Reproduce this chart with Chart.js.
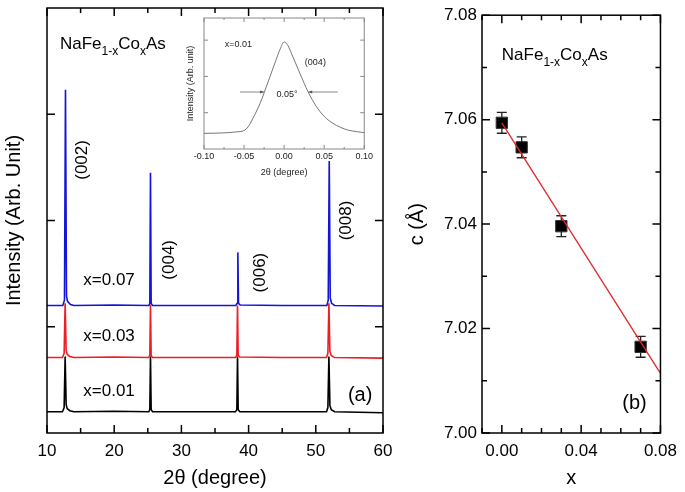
<!DOCTYPE html>
<html>
<head>
<meta charset="utf-8">
<script src="https://cdn.jsdelivr.net/npm/chart.js@4.4.1/dist/chart.umd.min.js"></script>
<style>
  body { margin: 0; background: #fff; }
  #wrap { position: relative; width: 685px; height: 492px; }
  canvas { position: absolute; }
</style>
</head>
<body>
<div id="wrap">
  <canvas id="xrd" width="440" height="492" style="left:0;top:0"></canvas>
  <canvas id="lattice" width="285" height="492" style="left:400px;top:0"></canvas>
  <canvas id="inset" width="195" height="165" style="left:180px;top:15px"></canvas>
</div>
<script>
"use strict";

/* --- DATA (a): XRD patterns, offset in arbitrary units --- */

const x001 = [10, 12.3, 12.55, 12.7, 12.85, 13.0, 13.4, 14, 20, 25.15, 25.3, 25.4, 25.5, 25.7, 30, 38.05, 38.25, 38.35, 38.45, 38.7, 45, 51.6, 51.8, 51.95, 52.1, 52.3, 52.8, 60];
const y001 = [0.2, 0.2, 0.24, 0.72, 0.27, 0.23, 0.21, 0.2, 0.205, 0.2, 0.22, 0.72, 0.22, 0.2, 0.2, 0.2, 0.22, 0.72, 0.22, 0.2, 0.2, 0.2, 0.24, 0.72, 0.26, 0.22, 0.2, 0.19];

const x003 = [10, 12.3, 12.55, 12.7, 12.85, 13.0, 13.4, 14, 20, 25.15, 25.3, 25.4, 25.5, 25.7, 30, 38.05, 38.25, 38.35, 38.45, 38.7, 45, 51.6, 51.8, 51.95, 52.1, 52.3, 52.8, 60];
const y003 = [0.71, 0.71, 0.75, 1.22, 0.78, 0.74, 0.72, 0.71, 0.715, 0.71, 0.73, 1.21, 0.73, 0.71, 0.71, 0.71, 0.73, 1.2, 0.73, 0.715, 0.71, 0.71, 0.75, 1.22, 0.77, 0.73, 0.71, 0.705];

const x007 = [10, 12.35, 12.6, 12.75, 12.9, 13.05, 13.5, 14, 20, 25.15, 25.3, 25.4, 25.5, 25.7, 30, 38.1, 38.3, 38.4, 38.5, 38.75, 45, 51.65, 51.85, 52.0, 52.15, 52.35, 52.8, 60];
const y007 = [1.2, 1.2, 1.25, 3.23, 1.29, 1.24, 1.21, 1.2, 1.205, 1.2, 1.22, 2.45, 1.22, 1.2, 1.2, 1.2, 1.22, 1.7, 1.22, 1.205, 1.2, 1.2, 1.25, 2.56, 1.27, 1.22, 1.2, 1.195];

const xrdXTicks = [10, 20, 30, 40, 50, 60];
const xrdXMinor = [15, 25, 35, 45, 55];
const xrdYTicks = [1, 2, 3];

/* --- DATA (inset): (004) peak of x=0.01 --- */

const insetX = [-0.10, -0.08, -0.06, -0.05, -0.045, -0.04, -0.03, -0.02, -0.01, -0.005, 0, 0.005, 0.01, 0.02, 0.03, 0.04, 0.05, 0.06, 0.07, 0.08, 0.09, 0.10];
const insetY = [0.43, 0.44, 0.47, 0.51, 0.61, 0.8, 1.26, 1.85, 2.46, 2.75, 2.95, 2.84, 2.59, 2.07, 1.57, 1.18, 0.9, 0.72, 0.6, 0.52, 0.48, 0.45];
const insetXTicks = [-0.10, -0.05, 0.00, 0.05, 0.10];
const insetXMinor = [-0.075, -0.025, 0.025, 0.075];
const insetYTicks = [1, 2, 3];

/* --- DATA (b): c axis vs x --- */

const cDoping = [0.00, 0.01, 0.03, 0.07];
const cValue = [7.0594, 7.0547, 7.0396, 7.0165];
const cError = [0.002, 0.002, 0.002, 0.002];
const fitX = [0.00, 0.08];
const fitY = [7.0594, 7.0114];
const cXTicks = [0.00, 0.04, 0.08];
const cXMinor = [-0.01, 0.01, 0.02, 0.03, 0.05, 0.06, 0.07];
const cYTicks = [7.00, 7.02, 7.04, 7.06, 7.08];
const cYMinor = [7.01, 7.03, 7.05, 7.07];

const FONT = "'Liberation Sans', Arial, sans-serif";

function pts(xs, ys) {
  return xs.map((v, i) => ({x: v, y: ys[i]}));
}

/* frame + inward ticks on all four sides */
const frameTicks = {
  id: 'frameTicks',
  afterDraw(chart, args, o) {
    const ctx = chart.ctx;
    const a = chart.chartArea;
    const sx = chart.scales.x, sy = chart.scales.y;
    ctx.save();
    ctx.strokeStyle = o.color;
    ctx.lineWidth = o.width;
    ctx.beginPath();
    const mark = (vals, len) => {
      vals.forEach(v => {
        const px = sx.getPixelForValue(v);
        ctx.moveTo(px, a.bottom); ctx.lineTo(px, a.bottom - len);
        ctx.moveTo(px, a.top); ctx.lineTo(px, a.top + len);
      });
    };
    const markY = (vals, len) => {
      vals.forEach(v => {
        const py = sy.getPixelForValue(v);
        ctx.moveTo(a.left, py); ctx.lineTo(a.left + len, py);
        ctx.moveTo(a.right, py); ctx.lineTo(a.right - len, py);
      });
    };
    mark(o.xMajor, o.major);
    mark(o.xMinor, o.minor);
    markY(o.yMajor, o.major);
    markY(o.yMinor, o.minor);
    ctx.stroke();
    ctx.strokeRect(a.left, a.top, a.right - a.left, a.bottom - a.top);
    ctx.restore();
  }
};

/* texts, placed in data units */
function drawFormula(ctx, x, y, size) {
  const parts = [['NaFe', 0], ['1-x', 1], ['Co', 0], ['x', 1], ['As', 0]];
  ctx.textAlign = 'left';
  ctx.textBaseline = 'alphabetic';
  parts.forEach(p => {
    const sz = p[1] ? Math.round(size * 0.7) : size;
    ctx.font = sz + 'px ' + FONT;
    ctx.fillText(p[0], x, y + (p[1] ? size * 0.33 : 0));
    x += ctx.measureText(p[0]).width;
  });
}

const labels = {
  id: 'labels',
  afterDraw(chart, args, o) {
    const ctx = chart.ctx;
    const sx = chart.scales.x, sy = chart.scales.y;
    ctx.save();
    ctx.fillStyle = o.color || '#000';
    (o.items || []).forEach(t => {
      const px = sx.getPixelForValue(t.x);
      const py = sy.getPixelForValue(t.y);
      if (t.formula) { drawFormula(ctx, px, py, t.size); return; }
      ctx.font = t.size + 'px ' + FONT;
      ctx.textAlign = t.align || 'center';
      ctx.textBaseline = 'middle';
      ctx.save();
      ctx.translate(px, py);
      if (t.rotate) ctx.rotate(-Math.PI / 2);
      ctx.fillText(t.text, 0, 0);
      ctx.restore();
    });
    (o.arrows || []).forEach(r => {
      const x0 = sx.getPixelForValue(r.from), x1 = sx.getPixelForValue(r.to);
      const py = sy.getPixelForValue(r.y);
      const d = Math.sign(x1 - x0);
      ctx.strokeStyle = '#888';
      ctx.lineWidth = 1;
      ctx.beginPath();
      ctx.moveTo(x0, py); ctx.lineTo(x1, py);
      ctx.stroke();
      ctx.fillStyle = '#555';
      ctx.beginPath();
      ctx.moveTo(x1, py); ctx.lineTo(x1 - d * 4, py - 1.5); ctx.lineTo(x1 - d * 4, py + 1.5);
      ctx.fill();
    });
    ctx.restore();
  }
};

/* error bars for panel (b) */
const errorBars = {
  id: 'errorBars',
  beforeDatasetsDraw(chart) {
    const ctx = chart.ctx;
    const sx = chart.scales.x, sy = chart.scales.y;
    ctx.save();
    ctx.strokeStyle = '#222';
    ctx.lineWidth = 1.3;
    ctx.beginPath();
    cDoping.forEach((v, i) => {
      const px = sx.getPixelForValue(v);
      const top = sy.getPixelForValue(cValue[i] + cError[i]);
      const bot = sy.getPixelForValue(cValue[i] - cError[i]);
      ctx.moveTo(px, top); ctx.lineTo(px, bot);
      ctx.moveTo(px - 5, top); ctx.lineTo(px + 5, top);
      ctx.moveTo(px - 5, bot); ctx.lineTo(px + 5, bot);
    });
    ctx.stroke();
    ctx.restore();
  }
};

function fixedTicks(vals) {
  return s => { s.ticks = vals.map(v => ({value: v})); };
}

const common = {
  responsive: false,
  animation: false,
  devicePixelRatio: 1,
  events: []
};

/* --- PANEL (a) --- */

new Chart(document.getElementById('xrd'), {
  type: 'line',
  data: {
    datasets: [
      {label: 'x=0.07', data: pts(x007, y007), borderColor: '#1414d8', order: 0},
      {label: 'x=0.03', data: pts(x003, y003), borderColor: '#ee1c24', order: 1},
      {label: 'x=0.01', data: pts(x001, y001), borderColor: '#000', order: 2}
    ].map(d => Object.assign(d, {borderWidth: 1.6, pointRadius: 0, tension: 0, fill: false}))
  },
  options: Object.assign({}, common, {
    layout: {padding: {top: 8, right: 57, left: 0, bottom: 0}},
    scales: {
      x: {
        type: 'linear', min: 10, max: 60,
        afterBuildTicks: fixedTicks(xrdXTicks),
        afterFit: s => { s.height = 59; },
        grid: {display: false, drawTicks: false},
        border: {display: false},
        ticks: {color: '#000', padding: 8, font: {family: FONT, size: 17}},
        title: {display: true, text: '2θ (degree)', color: '#000', padding: {top: 0, bottom: 2}, font: {family: FONT, size: 20}}
      },
      y: {
        type: 'linear', min: 0, max: 4,
        afterBuildTicks: fixedTicks(xrdYTicks),
        afterFit: s => { s.width = 47; },
        grid: {display: false, drawTicks: false},
        border: {display: false},
        ticks: {display: false},
        title: {display: true, text: 'Intensity (Arb. Unit)', color: '#000', padding: {top: 2, bottom: 0}, font: {family: FONT, size: 20}}
      }
    },
    plugins: {
      legend: {display: false},
      tooltip: {enabled: false},
      frameTicks: {color: '#000', width: 1.5, major: 8, minor: 5, xMajor: xrdXTicks, xMinor: xrdXMinor, yMajor: xrdYTicks, yMinor: []},
      labels: {
        items: [
          {formula: true, text: 'NaFe1-xCoxAs', x: 11.93, y: 3.61, size: 17},
          {text: '(002)', x: 15.3, y: 2.57, size: 17, rotate: true},
          {text: '(004)', x: 28.15, y: 1.63, size: 17, rotate: true},
          {text: '(006)', x: 41.7, y: 1.51, size: 17, rotate: true},
          {text: '(008)', x: 54.5, y: 2.0, size: 17, rotate: true},
          {text: 'x=0.07', x: 15.4, y: 1.44, size: 17, align: 'left'},
          {text: 'x=0.03', x: 15.4, y: 0.906, size: 17, align: 'left'},
          {text: 'x=0.01', x: 15.4, y: 0.39, size: 17, align: 'left'},
          {text: '(a)', x: 56.6, y: 0.35, size: 20}
        ]
      }
    }
  }),
  plugins: [frameTicks, labels]
});

/* --- INSET --- */

new Chart(document.getElementById('inset'), {
  type: 'line',
  data: {
    datasets: [{data: pts(insetX, insetY), borderColor: '#777', borderWidth: 1, pointRadius: 0, tension: 0.4, cubicInterpolationMode: 'monotone', fill: false}]
  },
  options: Object.assign({}, common, {
    layout: {padding: {top: 3, right: 8, left: 0, bottom: 0}},
    scales: {
      x: {
        type: 'linear', min: -0.10, max: 0.10,
        afterBuildTicks: fixedTicks(insetXTicks),
        afterFit: s => { s.height = 31; },
        grid: {display: false, drawTicks: false},
        border: {display: false},
        ticks: {color: '#222', padding: 2, font: {family: FONT, size: 9}, callback: v => v.toFixed(2)},
        title: {display: true, text: '2θ (degree)', color: '#222', padding: {top: 0, bottom: 2}, font: {family: FONT, size: 9}}
      },
      y: {
        type: 'linear', min: 0, max: 3.61,
        afterBuildTicks: fixedTicks(insetYTicks),
        afterFit: s => { s.width = 24; },
        grid: {display: false, drawTicks: false},
        border: {display: false},
        ticks: {display: false},
        title: {display: true, text: 'Intensity (Arb. unit)', color: '#222', padding: {top: 5, bottom: 0}, font: {family: FONT, size: 9}}
      }
    },
    plugins: {
      legend: {display: false},
      tooltip: {enabled: false},
      frameTicks: {color: '#888', width: 1, major: 4, minor: 2, xMajor: insetXTicks, xMinor: insetXMinor, yMajor: insetYTicks, yMinor: []},
      labels: {
        color: '#222',
        items: [
          {text: 'x=0.01', x: -0.074, y: 2.89, size: 9, align: 'left'},
          {text: '(004)', x: 0.039, y: 2.37, size: 9},
          {text: '0.05°', x: 0.0037, y: 1.49, size: 9}
        ],
        arrows: [
          {from: -0.055, to: -0.025, y: 1.57},
          {from: 0.067, to: 0.03, y: 1.57}
        ]
      }
    }
  }),
  plugins: [frameTicks, labels]
});

/* --- PANEL (b) --- */

new Chart(document.getElementById('lattice'), {
  type: 'scatter',
  data: {
    datasets: [
      {type: 'line', data: pts(fitX, fitY), borderColor: '#e3262b', borderWidth: 1.3, pointRadius: 0, fill: false, order: 0},
      {data: pts(cDoping, cValue), backgroundColor: '#000', borderColor: '#333', borderWidth: 1, pointStyle: 'rect', pointRadius: 8, order: 1}
    ]
  },
  options: Object.assign({}, common, {
    layout: {padding: {top: 8, right: 17, left: 0, bottom: 0}},
    scales: {
      x: {
        type: 'linear', min: -0.01, max: 0.08,
        afterBuildTicks: fixedTicks(cXTicks),
        afterFit: s => { s.height = 59; },
        grid: {display: false, drawTicks: false},
        border: {display: false},
        ticks: {color: '#000', padding: 8, font: {family: FONT, size: 17}, callback: v => v.toFixed(2)},
        title: {display: true, text: 'x', color: '#000', padding: {top: 0, bottom: 2}, font: {family: FONT, size: 20}}
      },
      y: {
        type: 'linear', min: 7.00, max: 7.08,
        afterBuildTicks: fixedTicks(cYTicks),
        afterFit: s => { s.width = 82; },
        grid: {display: false, drawTicks: false},
        border: {display: false},
        ticks: {color: '#000', padding: 5, font: {family: FONT, size: 17}, callback: v => v.toFixed(2)},
        title: {display: true, text: 'c (Å)', color: '#000', padding: {top: 5, bottom: 0}, font: {family: FONT, size: 20}}
      }
    },
    plugins: {
      legend: {display: false},
      tooltip: {enabled: false},
      frameTicks: {color: '#000', width: 1.5, major: 8, minor: 5, xMajor: cXTicks, xMinor: cXMinor, yMajor: cYTicks, yMinor: cYMinor},
      labels: {
        items: [
          {formula: true, text: 'NaFe1-xCoxAs', x: 0.0, y: 7.0714, size: 17},
          {text: '(b)', x: 0.0669, y: 7.0057, size: 20}
        ]
      }
    }
  }),
  plugins: [errorBars, frameTicks, labels]
});
</script>
</body>
</html>
